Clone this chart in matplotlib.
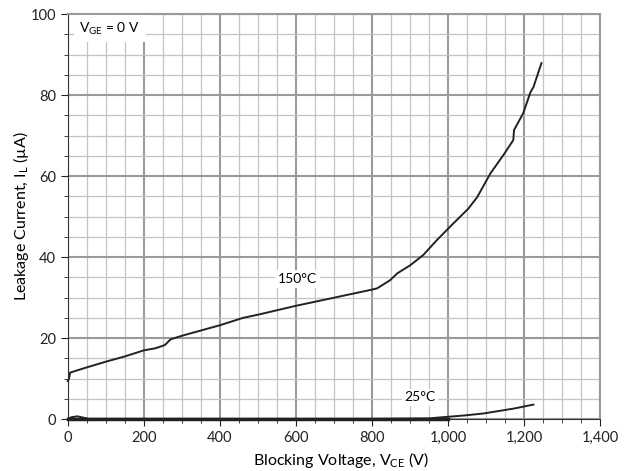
import matplotlib.pyplot as plt
from matplotlib.ticker import MultipleLocator, FuncFormatter

plt.rcParams['font.family'] = ['Lato', 'DejaVu Sans']

# 150 C curve (V, uA)
v150 = [0, 3, 6, 50, 100, 150, 200, 230, 255, 270, 300, 350, 400, 460, 500, 600,
        700, 800, 813, 847, 866, 900, 934, 970, 1011, 1053, 1076, 1111, 1145,
        1171, 1173, 1197, 1216, 1224, 1245]
i150 = [9.4, 10.0, 11.5, 12.8, 14.2, 15.5, 17.0, 17.5, 18.3, 19.7, 20.6, 21.9,
        23.2, 25.0, 25.8, 28.0, 30.0, 32.0, 32.3, 34.3, 36.0, 38.0, 40.5, 44.2,
        48.1, 52.0, 54.8, 60.7, 65.2, 68.9, 71.4, 75.5, 80.7, 82.0, 87.9]

# 25 C curve
v25 = [0, 10, 25, 40, 55, 200, 400, 600, 800, 950, 987, 1040, 1092, 1171, 1224]
i25 = [0.1, 0.5, 0.7, 0.4, 0.1, 0.1, 0.1, 0.1, 0.1, 0.2, 0.5, 0.9, 1.4, 2.6, 3.6]

fig, ax = plt.subplots(figsize=(6.34, 4.71), dpi=100)
fig.subplots_adjust(left=0.107, right=0.947, top=0.97, bottom=0.11)

ax.set_xlim(0, 1400)
ax.set_ylim(0, 100)
ax.xaxis.set_major_locator(MultipleLocator(200))
ax.xaxis.set_minor_locator(MultipleLocator(50))
ax.yaxis.set_major_locator(MultipleLocator(20))
ax.yaxis.set_minor_locator(MultipleLocator(5))
ax.xaxis.set_major_formatter(FuncFormatter(lambda v, p: f"{int(v):,}"))

ax.grid(which='major', color='#9a9a9a', lw=1.5)
ax.grid(which='minor', color='#c4c4c4', lw=0.9)
ax.set_axisbelow(True)
ax.tick_params(which='both', direction='out', labelsize=10.5, colors='#222222')
ax.tick_params(which='major', length=5)
ax.tick_params(which='minor', length=3)
for s in ['top', 'right']:
    ax.spines[s].set_color('#9a9a9a')
    ax.spines[s].set_linewidth(1.5)
for s in ['left', 'bottom']:
    ax.spines[s].set_color('#333333')

ax.plot(v150, i150, color='#222222', lw=1.4, zorder=3, clip_on=False)
ax.plot(v25, i25, color='#222222', lw=1.4, zorder=3, clip_on=False)
ax.plot([0, 1000], [0, 0], color='#222222', lw=2.5, zorder=3, clip_on=False)

box = dict(facecolor='white', edgecolor='none', pad=2)
ax.text(603, 34.6, '150°C', ha='center', va='center', fontsize=10, bbox=box, zorder=4)
ax.text(926, 5.4, '25°C', ha='center', va='center', fontsize=10, bbox=box, zorder=4)
ax.text(30, 96.5, r'V$_{\mathregular{GE}}$ = 0 V', ha='left', va='center', fontsize=10,
        bbox=dict(facecolor='white', edgecolor='none', pad=4), zorder=4)

ax.set_xlabel(r'Blocking Voltage, V$_{\mathregular{CE}}$ (V)', fontsize=11.5)
ax.set_ylabel(r'Leakage Current, I$_{\mathregular{L}}$ (µA)', fontsize=11.5)
ax.xaxis.set_label_coords(0.513, -0.075)
ax.yaxis.set_label_coords(-0.07, 0.5)

fig.savefig('out.png')
